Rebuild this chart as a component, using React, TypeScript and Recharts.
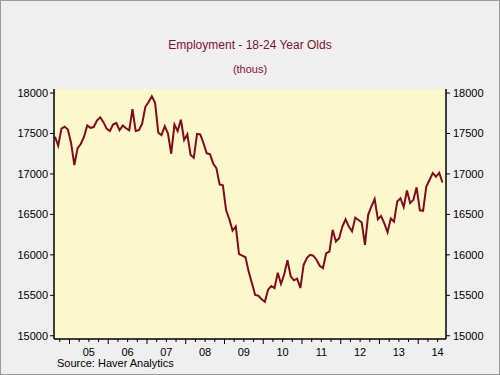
import { LineChart, Line, XAxis, YAxis, CartesianGrid } from 'recharts'

// monthly, Aug 2004 .. Aug 2014 (thousands)
const employment = [
  17460, 17350, 17560, 17584, 17550, 17380, 17110, 17320, 17370, 17460,
  17600, 17570, 17580, 17660, 17700, 17640, 17560, 17530, 17610, 17630,
  17540, 17600, 17565, 17540, 17800, 17530, 17540, 17620, 17830, 17890,
  17960, 17880, 17510, 17480, 17590, 17500, 17250, 17610, 17530, 17670,
  17420, 17490, 17235, 17200, 17495, 17490, 17380, 17255, 17245, 17130,
  17070, 16870, 16860, 16550, 16440, 16300, 16350, 16010, 15990, 15970,
  15790, 15650, 15505, 15495, 15450, 15420, 15570, 15615, 15590, 15780,
  15640, 15760, 15935, 15735, 15685, 15705, 15590, 15875, 15960, 16000,
  15990, 15940, 15865, 15835, 16020, 16040, 16310, 16165, 16205, 16350,
  16440, 16350, 16290, 16460, 16430, 16400, 16123, 16495, 16600, 16690,
  16440, 16480, 16390, 16280, 16450, 16410, 16660, 16700, 16590, 16795,
  16640, 16680, 16835, 16550, 16545, 16845, 16925, 17010, 16965, 17015,
  16895,
]
const yearLabels = ['05', '06', '07', '08', '09', '10', '11', '12', '13', '14']
const yTicks = [15000, 15500, 16000, 16500, 17000, 17500, 18000]

const data = employment.map((v, i) => ({ i, v }))
// quarter boundaries, index 4.5 = Jan 2005
const quarterTicks: number[] = []
for (let t = 1.5; t <= 121; t += 3) quarterTicks.push(t)

const MAROON = '#7d1232'

function QuarterTick(props: any) {
  const { x, y, payload } = props
  const v = payload.value
  const isYear = Math.abs(((v - 4.5) % 12 + 12) % 12) < 0.01
  const labelIdx = Math.round((v - 10.5) / 12)
  const isLabel = Math.abs(v - (10.5 + labelIdx * 12)) < 0.01 && yearLabels[labelIdx]
  return (
    <g>
      <line x1={x} x2={x} y1={y} y2={y + (isYear ? 5 : 3)} stroke="#000" />
      {isLabel && (
        <text x={x} y={y + 17} textAnchor="middle" fontSize={11} fill="#000" fontFamily="Liberation Sans, Arial">
          {yearLabels[labelIdx]}
        </text>
      )}
    </g>
  )
}

export default function App() {
  const tickStyle = { fontSize: 11, fill: '#000', fontFamily: 'Liberation Sans, Arial' }
  return (
    <div style={{ position: 'fixed', left: 0, top: 0, width: 500, height: 375, background: '#efefef', boxSizing: 'border-box', border: '1px solid #9a9a9a', fontFamily: 'Liberation Sans, Arial' }}>
      <div style={{ position: 'absolute', left: 0, width: 498, top: 37, textAlign: 'center', fontSize: 12, color: MAROON }}>Employment - 18-24 Year Olds</div>
      <div style={{ position: 'absolute', left: 0, width: 498, top: 62, textAlign: 'center', fontSize: 11, color: MAROON }}>(thous)</div>
      <div style={{ position: 'absolute', left: 0, top: -1 }}>
        <LineChart width={500} height={375} data={data} margin={{ top: 89, right: 0, bottom: 16, left: 0 }}>
          <CartesianGrid horizontal={false} vertical={false} fill="#fbf8cb" />
          <XAxis xAxisId="b" dataKey="i" type="number" domain={[-0.3, 121.1]} allowDataOverflow ticks={quarterTicks}
            interval={0} tickSize={0} tickMargin={0} tickLine={false} tick={<QuarterTick />} height={20}
            axisLine={{ stroke: '#000', strokeWidth: 1.5 }} />
          <XAxis xAxisId="t" orientation="top" dataKey="i" type="number" domain={[-0.3, 121.1]} allowDataOverflow
            tick={false} tickLine={false} height={0} axisLine={{ stroke: '#000', strokeWidth: 1.5 }} />
          <YAxis yAxisId="l" domain={[14960, 18050]} ticks={yTicks} allowDataOverflow width={53}
            tickSize={4} tickMargin={2} tick={tickStyle} tickLine={{ stroke: '#000' }} axisLine={{ stroke: '#000', strokeWidth: 1.5 }} />
          <YAxis yAxisId="r" orientation="right" domain={[14960, 18050]} ticks={yTicks} allowDataOverflow width={55}
            tickSize={4} tickMargin={3} tick={tickStyle} tickLine={{ stroke: '#000' }} axisLine={{ stroke: '#000', strokeWidth: 1.5 }} />
          <Line xAxisId="b" yAxisId="l" type="linear" dataKey="v" stroke="#820a1e" strokeWidth={2} dot={false} isAnimationActive={false} />
        </LineChart>
      </div>
      <div style={{ position: 'absolute', left: 56, top: 356, fontSize: 11, color: '#000' }}>Source: Haver Analytics</div>
    </div>
  )
}
